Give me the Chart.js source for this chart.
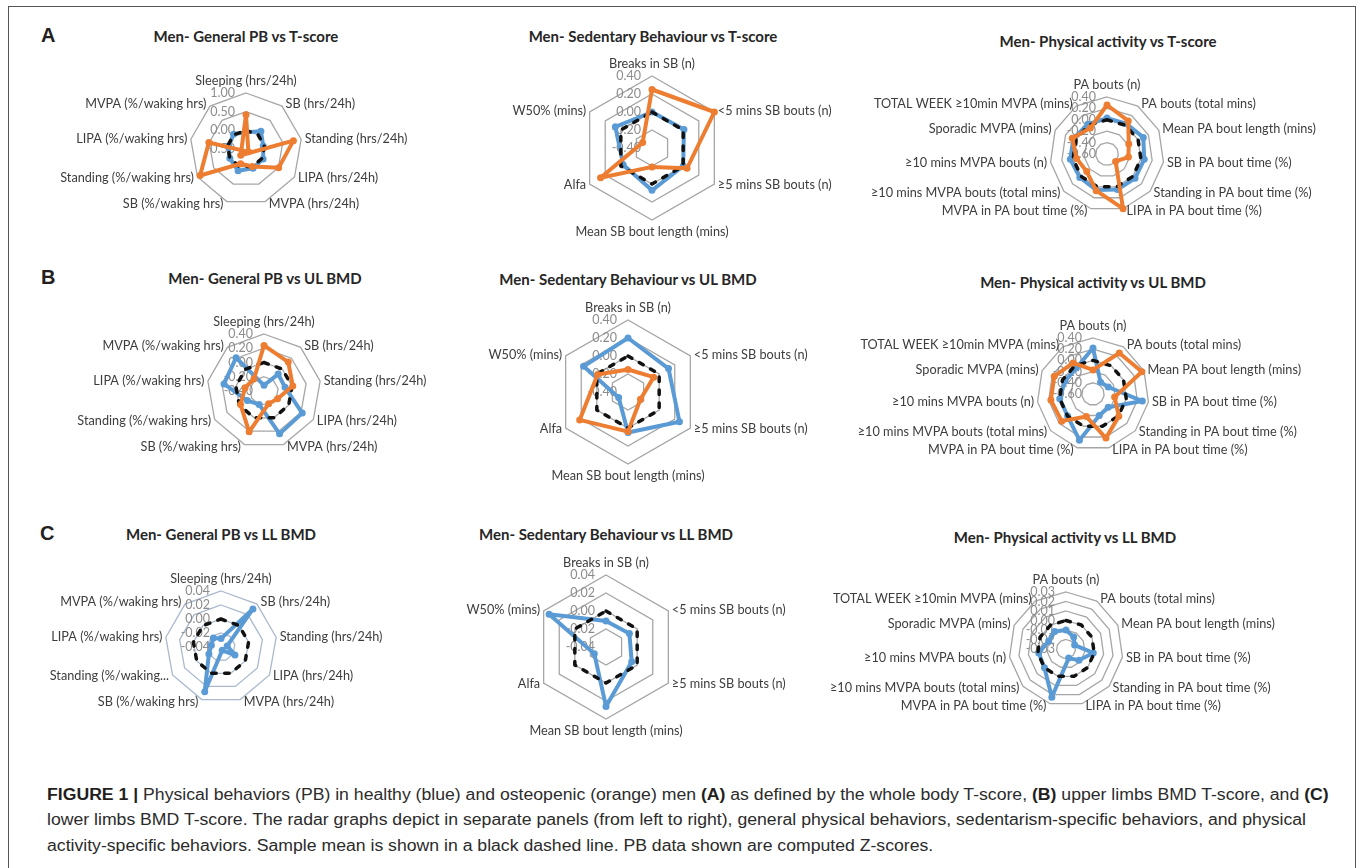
<!DOCTYPE html>
<html>
<head>
<meta charset="utf-8">
<script src="https://cdn.jsdelivr.net/npm/chart.js@4.4.1/dist/chart.umd.min.js"></script>
<style>
  body { margin: 0; background: #fff; width: 1360px; height: 868px; position: relative; overflow: hidden; }
  #frame { position: absolute; left: 8px; top: 6px; width: 1346px; height: 880px; border: 1px solid #555; border-bottom: none; }
  .panel { position: absolute; font: bold 20px "Liberation Sans", Arial, sans-serif; line-height: 20px; color: #231f20; }
  .title { position: absolute; transform: translate(-50%, -50%); font: bold 15px Lato, sans-serif; line-height: 16px; color: #262626; white-space: nowrap; }
  canvas { position: absolute; }
  .cap { position: absolute; left: 47px; font: 16px "Liberation Sans", Arial, sans-serif; line-height: 18px; color: #2b2b2b; white-space: nowrap; transform-origin: left center; }
  .cap b { font-weight: bold; color: #231f20; }
</style>
</head>
<body>
<div id="frame"></div>

<div class="panel" style="left:41px; top:25px;">A</div>
<div class="panel" style="left:41px; top:267px;">B</div>
<div class="panel" style="left:40px; top:523px;">C</div>

<div id="titles"></div>
<div id="charts"></div>

<div class="cap" style="top:786px;"><b>FIGURE 1 |</b> Physical behaviors (PB) in healthy (blue) and osteopenic (orange) men <b>(A)</b> as defined by the whole body T-score, <b>(B)</b> upper limbs BMD T-score, and <b>(C)</b></div>
<div class="cap" style="top:811px;">lower limbs BMD T-score. The radar graphs depict in separate panels (from left to right), general physical behaviors, sedentarism-specific behaviors, and physical</div>
<div class="cap" style="top:837px;">activity-specific behaviors. Sample mean is shown in a black dashed line. PB data shown are computed Z-scores.</div>

<script>
// categories
const generalLabels = ['Sleeping (hrs/24h)', 'SB (hrs/24h)', 'Standing (hrs/24h)', 'LIPA (hrs/24h)', 'MVPA (hrs/24h)',
  'SB (%/waking hrs)', 'Standing (%/waking hrs)', 'LIPA (%/waking hrs)', 'MVPA (%/waking hrs)'];
const generalLabelsShort = ['Sleeping (hrs/24h)', 'SB (hrs/24h)', 'Standing (hrs/24h)', 'LIPA (hrs/24h)', 'MVPA (hrs/24h)',
  'SB (%/waking hrs)', 'Standing (%/waking...', 'LIPA (%/waking hrs)', 'MVPA (%/waking hrs)'];
const sedentaryLabels = ['Breaks in SB (n)', '<5 mins SB bouts (n)', '\u22655 mins SB bouts (n)', 'Mean SB bout length (mins)', 'Alfa', 'W50% (mins)'];
const activityLabels = ['PA bouts (n)', 'PA bouts (total mins)', 'Mean PA bout length (mins)', 'SB in PA bout time (%)',
  'Standing in PA bout time (%)', 'LIPA in PA bout time (%)', 'MVPA in PA bout time (%)', '\u226510 mins MVPA bouts (total mins)',
  '\u226510 mins MVPA bouts (n)', 'Sporadic MVPA (mins)', 'TOTAL WEEK \u226510min MVPA (mins)'];

// A - whole body T-score
const a1Healthy = [-0.05, 0.12, -0.03, 0.03, 0.05, 0.12, 0.0, -0.03, 0.02];
const a1Osteo   = [0.42, -0.72, 0.79, 0.51, 0.0, -0.08, 0.92, 0.51, -0.6];
const a1Mean    = [0, 0, 0, 0, 0, 0, 0, 0, 0];
const a2Healthy = [0.0, 0.01, 0.0, 0.07, -0.03, 0.07];
const a2Osteo   = [0.25, 0.40, 0.05, -0.19, 0.26, -0.28];
const a2Mean    = [0, 0, 0, 0, 0, 0];
const a3Healthy = [0.03, 0.03, 0.1, 0.06, 0.05, 0.05, 0.06, 0.03, 0.05, 0.05, 0.02];
const a3Osteo   = [0.26, 0.09, -0.18, -0.22, -0.40, 0.40, 0.07, -0.13, -0.06, 0.07, -0.06];
const a3Mean    = [0, 0, 0, 0, 0, 0, 0, 0, 0, 0, 0];

// B - upper limbs BMD
const b1Healthy = [-0.32, -0.09, -0.1, 0.22, 0.24, -0.2, -0.13, 0.17, 0.21];
const b1Osteo   = [0.24, 0.13, 0.01, -0.18, -0.21, 0.21, -0.02, -0.13, -0.18];
const b1Mean    = [0, 0, 0, 0, 0, 0, 0, 0, 0];
const b2Healthy = [0.20, 0.12, 0.26, 0.05, -0.28, 0.17];
const b2Osteo   = [-0.15, -0.07, -0.24, 0.04, 0.22, -0.01];
const b2Mean    = [0, 0, 0, 0, 0, 0];
const b3Healthy = [0.22, -0.35, -0.3, 0.29, -0.24, -0.2, 0.26, 0.0, 0.0, -0.05, -0.05];
const b3Osteo   = [-0.17, 0.27, 0.36, -0.21, 0.01, 0.22, -0.18, 0.14, 0.16, 0.16, 0.06];
const b3Mean    = [0, 0, 0, 0, 0, 0, 0, 0, 0, 0, 0];

// C - lower limbs BMD
const c1Healthy = [-0.028, 0.031, -0.031, -0.017, -0.035, 0.028, -0.02, -0.026, -0.023];
const c1Mean    = [0, 0, 0, 0, 0, 0, 0, 0, 0];
const c2Healthy = [-0.011, -0.01, -0.007, 0.026, -0.025, 0.033];
const c2Mean    = [0, 0, 0, 0, 0, 0];
const c3Healthy = [-0.01, -0.015, -0.02, -0.001, -0.012, -0.02, 0.023, 0.0, -0.001, -0.01, -0.008];
const c3Mean    = [0, 0, 0, 0, 0, 0, 0, 0, 0, 0, 0];

const BLUE = '#5b9bd5';
const ORANGE = '#ed7d31';
const GRID = '#a6a6a6';

const panels = [
  { title: 'Men- General PB vs T-score', tx: 246, ty: 36, cx: 246, cy: 149, R: 56, min: -0.5, max: 1, step: 0.5, labels: generalLabels, healthy: a1Healthy, osteo: a1Osteo, mean: a1Mean },
  { title: 'Men- Sedentary Behaviour vs T-score', tx: 653, ty: 36, cx: 652, cy: 148, R: 72, min: -0.4, max: 0.4, step: 0.2, labels: sedentaryLabels, healthy: a2Healthy, osteo: a2Osteo, mean: a2Mean },
  { title: 'Men- Physical activity vs T-score', tx: 1108, ty: 41, cx: 1107, cy: 154, R: 57, min: -0.6, max: 0.4, step: 0.2, labels: activityLabels, healthy: a3Healthy, osteo: a3Osteo, mean: a3Mean },
  { title: 'Men- General PB vs UL BMD', tx: 265, ty: 278, cx: 264, cy: 391, R: 57, min: -0.4, max: 0.4, step: 0.2, labels: generalLabels, healthy: b1Healthy, osteo: b1Osteo, mean: b1Mean },
  { title: 'Men- Sedentary Behaviour vs UL BMD', tx: 628, ty: 279, cx: 628, cy: 392, R: 72, min: -0.4, max: 0.4, step: 0.2, labels: sedentaryLabels, healthy: b2Healthy, osteo: b2Osteo, mean: b2Mean },
  { title: 'Men- Physical activity vs UL BMD', tx: 1093, ty: 282, cx: 1093, cy: 394, R: 56, min: -0.6, max: 0.4, step: 0.2, labels: activityLabels, healthy: b3Healthy, osteo: b3Osteo, mean: b3Mean },
  { title: 'Men- General PB vs LL BMD', tx: 221, ty: 534, cx: 221, cy: 647, R: 56, min: -0.04, max: 0.04, step: 0.02, labels: generalLabelsShort, healthy: c1Healthy, osteo: null, mean: c1Mean, grid: '#aab8cc' },
  { title: 'Men- Sedentary Behaviour vs LL BMD', tx: 606, ty: 534, cx: 606, cy: 647, R: 72, min: -0.04, max: 0.04, step: 0.02, labels: sedentaryLabels, healthy: c2Healthy, osteo: null, mean: c2Mean },
  { title: 'Men- Physical activity vs LL BMD', tx: 1065, ty: 537, cx: 1066, cy: 649, R: 57, min: -0.03, max: 0.03, step: 0.01, labels: activityLabels, healthy: c3Healthy, osteo: null, mean: c3Mean }
];

// Excel-like tick labels (left of the vertical axis) and category labels
const excelText = {
  id: 'excelText',
  beforeDatasetsDraw(chart) {
    const s = chart.scales.r;
    const ctx = chart.ctx;
    ctx.save();
    ctx.font = '12.5px Lato';
    ctx.fillStyle = '#8c8c8c';
    ctx.textAlign = 'right';
    ctx.textBaseline = 'middle';
    s.ticks.forEach(t => {
      const d = s.getDistanceFromCenterForValue(t.value);
      ctx.fillText(t.value.toFixed(2), s.xCenter - 11, s.yCenter - d);
    });
    ctx.restore();
  },
  afterDraw(chart) {
    const s = chart.scales.r;
    const ctx = chart.ctx;
    ctx.save();
    ctx.font = '12.7px Lato';
    ctx.fillStyle = '#3d3d3d';
    ctx.textBaseline = 'middle';
    chart.data.labels.forEach((lab, i) => {
      const a = s.getIndexAngle(i);
      const sin = Math.sin(a), cos = Math.cos(a);
      const p = s.getPointPosition(i, s.drawingArea);
      if (Math.abs(sin) < 0.1) {
        ctx.textAlign = 'center';
        ctx.fillText(lab, p.x, p.y - cos * 12);
      } else {
        ctx.textAlign = sin > 0 ? 'left' : 'right';
        ctx.fillText(lab, p.x + (sin > 0 ? 3.5 : -3.5), p.y - cos * 2.3);
      }
    });
    ctx.restore();
  }
};

const HALF_W = 250, HALF_H = 115;
const titleBox = document.getElementById('titles');
const chartBox = document.getElementById('charts');

panels.forEach(p => {
  const t = document.createElement('div');
  t.className = 'title';
  t.style.left = p.tx + 'px';
  t.style.top = p.ty + 'px';
  t.textContent = p.title;
  titleBox.appendChild(t);

  const cv = document.createElement('canvas');
  cv.width = HALF_W * 2;
  cv.height = HALF_H * 2;
  cv.style.left = (p.cx - HALF_W) + 'px';
  cv.style.top = (p.cy - HALF_H) + 'px';
  chartBox.appendChild(cv);

  const datasets = [
    { data: p.healthy, borderColor: BLUE, backgroundColor: BLUE, pointBackgroundColor: BLUE, borderWidth: 4,
      pointRadius: 3.5, pointBorderWidth: 0, fill: false, order: 3, clip: false,
      borderJoinStyle: 'round', borderCapStyle: 'round' },
    { data: p.mean, borderColor: '#111', borderWidth: 3.5, borderDash: [4.5, 8.5], pointRadius: 0, fill: false,
      order: 2, clip: false, borderJoinStyle: 'round', borderCapStyle: 'round' }
  ];
  if (p.osteo) {
    datasets.push({ data: p.osteo, borderColor: ORANGE, backgroundColor: ORANGE, pointBackgroundColor: ORANGE, borderWidth: 4,
      pointRadius: 3.5, pointBorderWidth: 0, fill: false, order: 1, clip: false,
      borderJoinStyle: 'round', borderCapStyle: 'round' });
  }

  new Chart(cv, {
    type: 'radar',
    data: { labels: p.labels, datasets },
    options: {
      responsive: false,
      animation: false,
      events: [],
      layout: { padding: { left: HALF_W - p.R, right: HALF_W - p.R, top: HALF_H - p.R, bottom: HALF_H - p.R } },
      plugins: { legend: { display: false }, tooltip: { enabled: false } },
      scales: {
        r: {
          min: p.min,
          max: p.max,
          ticks: { stepSize: p.step, display: false },
          grid: { color: p.grid || GRID, lineWidth: 1.3 },
          angleLines: { display: false },
          pointLabels: { display: false }
        }
      }
    },
    plugins: [excelText]
  });
});

// fit caption lines to the reference width
const caps = document.querySelectorAll('.cap');
const k = 1282 / caps[0].scrollWidth;
caps.forEach(c => { c.style.transform = 'scaleX(' + k + ')'; });
</script>
</body>
</html>
